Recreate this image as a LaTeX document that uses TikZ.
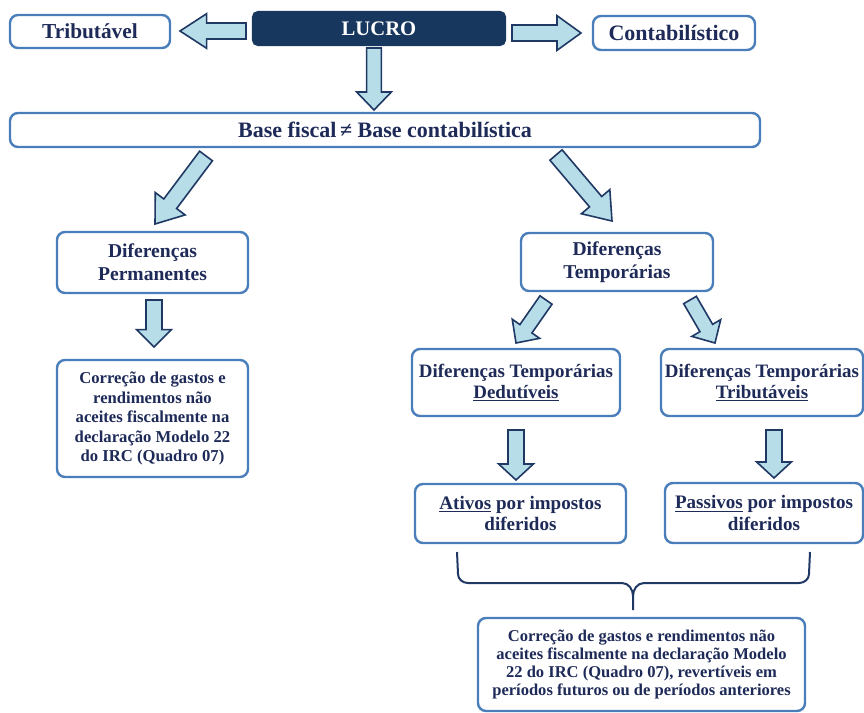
\documentclass[tikz,border=0pt]{standalone}
\usepackage{fontspec}
\setmainfont{Liberation Serif}
\usetikzlibrary{calc}
\definecolor{navy}{RGB}{23,55,94}
\definecolor{txt}{RGB}{30,42,88}
\definecolor{bord}{RGB}{74,126,187}
\definecolor{afill}{RGB}{183,221,232}
\definecolor{aline}{RGB}{31,56,100}
\tikzset{
  box/.style={draw=bord, line width=1.8pt, rounded corners=6pt, fill=white, text=txt, align=center, inner sep=0pt},
  blockarrow/.style={draw=aline, fill=afill, line width=1.2pt, line join=miter},
  bracesty/.style={draw=aline, line width=1.5pt},
}
\newcommand{\barrow}[5]{%
  \path let \p1=#1, \p2=#2, \n1={atan2(\y2-\y1,\x2-\x1)}, \n2={veclen(\x2-\x1,\y2-\y1)} in \pgfextra{\xdef\baang{\n1}\xdef\balenraw{\n2}};
  \pgfmathsetmacro\balen{\balenraw}
  \pgfmathsetmacro\baang{\baang}
  \pgfmathsetmacro\baxa{\balen-#5}
  \begin{scope}[shift={#1}, rotate=\baang]
    \draw[blockarrow] (0pt,#3pt) -- (\baxa pt,#3pt) -- (\baxa pt,#4pt) -- (\balen pt,0pt) -- (\baxa pt,-#4pt) -- (\baxa pt,-#3pt) -- (0pt,-#3pt) -- cycle;
  \end{scope}}
\begin{document}
\begin{tikzpicture}[x=0.75pt,y=-0.75pt]
\useasboundingbox (0,0) rectangle (864,713);
% boxes
\node[box, minimum width=120pt, minimum height=24.75pt, font=\fontsize{16}{18}\selectfont\bfseries] (trib) at (90,31.5) {Tributável};
\node[box, draw=navy, fill=navy, text=white, rounded corners=4pt, minimum width=189pt, minimum height=24.75pt, font=\fontsize{15.5}{17}\selectfont\bfseries] (lucro) at (379,28.5) {LUCRO};
\node[box, minimum width=121.5pt, minimum height=25.5pt, font=\fontsize{16.5}{18}\selectfont\bfseries] (contab) at (674,33) {Contabilístico};
\node[box, minimum width=562.5pt, minimum height=25.5pt, font=\fontsize{16.5}{18}\selectfont\bfseries] (base) at (385,130) {Base fiscal\,≠ Base contabilística};
\node[box, minimum width=143.25pt, minimum height=45.75pt, font=\fontsize{14.7}{17}\selectfont\bfseries] (perm) at (152.5,262.5) {Diferenças\\Permanentes};
\node[box, minimum width=143.25pt, minimum height=87.75pt, font=\fontsize{12.5}{14.6}\selectfont\bfseries] (corrL) at (152.5,418.5) {Correção de gastos e\\rendimentos não\\aceites fiscalmente na\\declaração Modelo 22\\do IRC (Quadro 07)};
\node[box, minimum width=144pt, minimum height=43.5pt, font=\fontsize{14.7}{17}\selectfont\bfseries] (temp) at (617,262) {Diferenças\\Temporárias};
\node[box, minimum width=156pt, minimum height=50.25pt, font=\fontsize{14.2}{16}\selectfont\bfseries] (dedut) at (516,382.5) {Diferenças Temporárias\\\underline{Dedutíveis}};
\node[box, minimum width=151.5pt, minimum height=50.25pt, font=\fontsize{14.2}{16}\selectfont\bfseries] (tribt) at (762,382.5) {Diferenças Temporárias\\\underline{Tributáveis}};
\node[box, minimum width=158.25pt, minimum height=44.25pt, font=\fontsize{14.3}{16}\selectfont\bfseries] (ativos) at (520.5,513.5) {\underline{Ativos} por impostos\\diferidos};
\node[box, minimum width=148.5pt, minimum height=45pt, font=\fontsize{14.3}{16}\selectfont\bfseries] (passivos) at (764,513) {\underline{Passivos} por impostos\\diferidos};
\node[box, minimum width=245.25pt, minimum height=69.75pt, font=\fontsize{12.4}{13.5}\selectfont\bfseries] (corrB) at (641.5,664.5) {Correção de gastos e rendimentos não\\aceites fiscalmente na declaração Modelo\\22 do IRC (Quadro 07), revertíveis em\\períodos futuros ou de períodos anteriores};
% arrow end points
\coordinate (a1s) at (246,31);  \coordinate (a1e) at (180,31);
\coordinate (a2s) at (512,33);  \coordinate (a2e) at (581,33);
\coordinate (a3s) at (374,48);  \coordinate (a3e) at (374,110);
\coordinate (a4s) at (206,156); \coordinate (a4e) at (155,224);
\coordinate (a5s) at (556,155); \coordinate (a5e) at (612,221);
\coordinate (a6s) at (154,300); \coordinate (a6e) at (154,347);
\coordinate (a7s) at (546,300); \coordinate (a7e) at (516,343);
\coordinate (a8s) at (690,300); \coordinate (a8e) at (715,343);
\coordinate (a9s) at (516,430); \coordinate (a9e) at (516,480);
\coordinate (a10s) at (774,430); \coordinate (a10e) at (774,478);
\barrow{(a1s)}{(a1e)}{6}{13}{20}
\barrow{(a2s)}{(a2e)}{6}{13}{18}
\barrow{(a3s)}{(a3e)}{5.5}{13}{13.5}
\barrow{(a4s)}{(a4e)}{6}{14}{19}
\barrow{(a5s)}{(a5e)}{6}{14}{19}
\barrow{(a6s)}{(a6e)}{6}{13}{13}
\barrow{(a7s)}{(a7e)}{5.5}{12.5}{13}
\barrow{(a8s)}{(a8e)}{5.5}{12.5}{13}
\barrow{(a9s)}{(a9e)}{6}{13}{12}
\barrow{(a10s)}{(a10e)}{6}{13}{12}
% brace
\coordinate (brL) at (457,552);
\coordinate (brR) at (810,552);
\coordinate (brM) at (633,610);
\draw[bracesty] (brL) -- (458,574) to[out=-90,in=180] (468,583) -- (622,583) to[out=0,in=90] (633,596) -- (brM);
\draw[bracesty] (brR) -- (809,574) to[out=-90,in=0] (799,583) -- (644,583) to[out=180,in=90] (633,596);
\end{tikzpicture}
\end{document}
